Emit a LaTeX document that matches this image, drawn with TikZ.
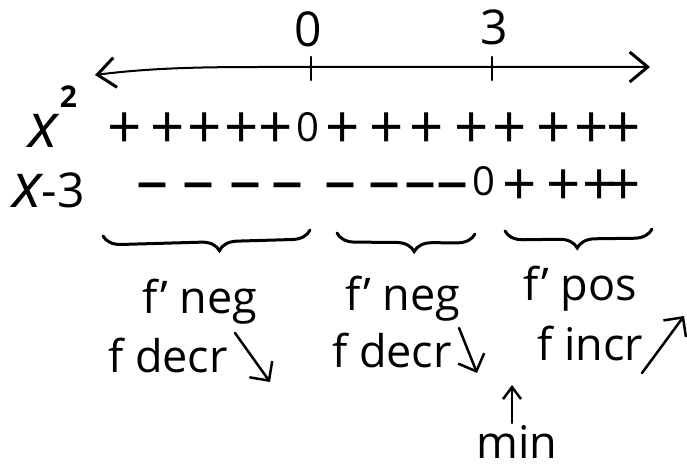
\documentclass[tikz,border=0pt]{standalone}
\usepackage{fontspec}
\setmainfont{Open Sans}
\usetikzlibrary{arrows.meta,decorations.pathreplacing}
\begin{document}
\begin{tikzpicture}[x=1pt,y=-1pt,
  lbl/.style={font=\fontsize{45}{45}\selectfont, inner sep=0pt, anchor=base},
  num/.style={font=\fontsize{48}{48}\selectfont, inner sep=0pt},
  sgn/.style={font=\fontsize{60}{60}\selectfont, inner sep=0pt, anchor=base},
  dsh/.style={font=\fontsize{64}{64}\selectfont, inner sep=0pt, anchor=base},
  zr/.style={font=\fontsize{40}{40}\selectfont, inner sep=0pt, anchor=base},
  hand/.style={line width=2.5pt, line cap=round, line join=round},
  barb/.style={-{Straight Barb[length=14pt,width=28pt,line width=2.5pt]}},
  brc/.style={decorate, decoration={brace, mirror, amplitude=18pt, aspect=#1}, line width=3pt, line cap=round}
]
\useasboundingbox (0,0) rectangle (687,468);
% axis
\node[num] (l0) at (308,29) {0};
\node[num] (l3) at (494,27) {3};
\coordinate (aL) at (95,75);
\coordinate (aR) at (650,67);
\draw[line width=2pt, {Straight Barb[length=18pt,width=30pt,line width=3pt]}-{Straight Barb[length=18pt,width=30pt,line width=3pt]}]
  (aL) .. controls (150,68) and (200,67) .. (260,67) -- (aR);
\coordinate (t0a) at (311,57); \coordinate (t0b) at (311,80);
\coordinate (t3a) at (492,57); \coordinate (t3b) at (492,80);
\draw[hand] (t0a) -- (t0b);
\draw[hand] (t3a) -- (t3b);
% row labels
\node[inner sep=0pt, anchor=base west] (xsq) at (28,147)
  {{\fontsize{62}{62}\selectfont\itshape x}\hspace{2pt}\raisebox{40pt}{\fontsize{30}{30}\selectfont\bfseries 2}};
\node[inner sep=0pt, anchor=base west] (xm3) at (12,207)
  {{\fontsize{62}{62}\selectfont\itshape x}{\fontsize{48}{48}\selectfont -3}};
% row 1
\foreach \px [count=\i] in {125,168,205,242,276,343,387,427,472,510,554,592,624}
  \node[sgn] (pa\i) at (\px,148) {+};
\node[zr] (za) at (308,141) {0};
% row 2
\foreach \px [count=\i] in {152,198,245,287,340,384,420,452}
  \node[dsh] (ma\i) at (\px,202) {–};
\node[zr] (zb) at (484,195) {0};
\foreach \px [count=\i] in {520,564,600,624}
  \node[sgn] (pb\i) at (\px,205) {+};
% braces
\coordinate (b1a) at (103,236); \coordinate (b1b) at (310,230);
\coordinate (b2a) at (337,233); \coordinate (b2b) at (475,234);
\coordinate (b3a) at (505,231); \coordinate (b3b) at (652,229);
\draw[brc=0.56] (b1a) -- (b1b);
\draw[brc=0.56] (b2a) -- (b2b);
\draw[brc=0.49] (b3a) -- (b3b);
% labels
\node[lbl] (n1a) at (200,313) {f' neg};
\node[lbl] (n1b) at (168,372) {f decr};
\node[lbl] (n2a) at (403,310) {f' neg};
\node[lbl] (n2b) at (392,367) {f decr};
\node[lbl] (n3a) at (580,300) {f' pos};
\node[lbl] (n3b) at (590,360) {f incr};
\node[lbl] (mn) at (517,458) {min};
% arrows
\coordinate (r1a) at (235,333); \coordinate (r1b) at (270,382);
\coordinate (r2a) at (459,328); \coordinate (r2b) at (477,373);
\coordinate (r3a) at (642,373); \coordinate (r3b) at (684,316);
\coordinate (upa) at (512,423); \coordinate (upb) at (512,385);
\draw[hand, barb] (r1a) -- (r1b);
\draw[hand, barb] (r2a) -- (r2b);
\draw[hand, barb] (r3a) -- (r3b);
\draw[hand, -{Straight Barb[length=12pt,width=18pt,line width=2.5pt]}] (upa) -- (upb);
\end{tikzpicture}
\end{document}
